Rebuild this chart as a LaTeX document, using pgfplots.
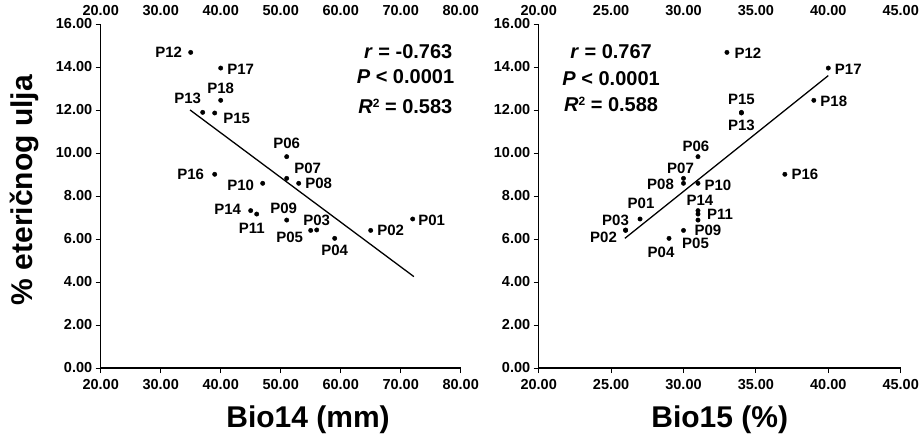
\documentclass[border=0pt]{standalone}
\usepackage{pgfplots}
\usepackage{pgfplotstable}
\pgfplotsset{compat=1.18}
\usepackage{fontspec}
\setmainfont{Liberation Sans}

\pgfplotstableread{
x y lab dx dy
72 6.93 P01 19 -1
65 6.40 P02 20 0
56 6.42 P03 0 10
59 6.03 P04 0 -12
55 6.40 P05 -21 -7
51 9.83 P06 0 13
51 8.82 P07 21 10
53 8.59 P08 20 0
51 6.88 P09 -3 12
47 8.59 P10 -22 -2
46 7.16 P11 -5 -14
35 14.68 P12 -22 0
37 11.89 P13 -15 14
45 7.32 P14 -23 1
39 11.86 P15 22 -5
39 9.01 P16 -24 0
40 13.95 P17 20 -1
40 12.45 P18 0 12
}\leftdata

\pgfplotstableread{
x y lab dx dy
27 6.93 P01 1 16
26 6.40 P02 -22 -7
26 6.42 P03 -10 10
29 6.03 P04 -8 -14
30 6.40 P05 12 -13
31 9.83 P06 -2 10
30 8.82 P07 -3 10
30 8.59 P08 -23 -1
31 6.88 P09 10 -10
31 8.59 P10 20 -2
31 7.16 P11 22 0
33 14.68 P12 21 -1
34 11.89 P13 0 -13
31 7.32 P14 2 10
34 11.86 P15 0 14
37 9.01 P16 20 0
40 13.95 P17 20 -1
39 12.45 P18 20 -1
}\rightdata

\pgfplotstableread{
x y
34.9 12.00
72.2 4.25
}\leftline

\pgfplotstableread{
x y
25.95 6.03
40.0 13.60
}\rightline

\pgfplotsset{
  mybase/.style={
    scale only axis,
    height=344pt,
    ymin=0, ymax=16,
    ytick={0,2,...,16},
    axis x line*=bottom,
    axis y line*=left,
    axis line style={-, line width=1.2pt, black},
    tick align=outside,
    major tick length=5pt,
    tick style={line width=0.9pt, black},
    /pgf/number format/assume math mode=true,
    /pgf/number format/fixed,
    /pgf/number format/fixed zerofill,
    /pgf/number format/precision=2,
    ticklabel style={font=\bfseries\fontsize{14.5}{14.5}\selectfont},
    xticklabel style={yshift=-3pt},
    clip=false,
  },
  toplabels/.style={
    scale only axis,
    height=344pt,
    ymin=0, ymax=16,
    axis x line*=top,
    axis y line=none,
    axis line style={draw=none},
    major tick length=0pt,
    /pgf/number format/assume math mode=true,
    /pgf/number format/fixed,
    /pgf/number format/fixed zerofill,
    /pgf/number format/precision=2,
    ticklabel style={font=\bfseries\fontsize{14.5}{14.5}\selectfont},
    xticklabel style={yshift=4.5pt},
  },
  ptlabels/.style={
    only marks, mark=*, mark size=2.2pt, black,
    point meta=explicit symbolic,
    nodes near coords,
    visualization depends on={\thisrow{dx}\as\dx},
    visualization depends on={\thisrow{dy}\as\dy},
    every node near coord/.append style={anchor=center, xshift=\dx pt, yshift=\dy pt,
      inner sep=0pt, font=\bfseries\fontsize{15}{15}\selectfont, black},
  },
}
\newcommand{\sqr}{\raisebox{0.55ex}{\fontsize{12}{12}\selectfont 2}}

\begin{document}
\begin{tikzpicture}
\path[use as bounding box] (-100.7pt,-66pt) rectangle (823.3pt,368pt);

% left panel
\begin{axis}[mybase, at={(0pt,0pt)}, anchor=south west,
  width=360pt, xmin=20, xmax=80, xtick={20,30,...,80},
  ylabel={\% eteričnog ulja}, xlabel={Bio14 (mm)},
  every axis y label/.style={at={(axis description cs:-0.211,0.517)}, rotate=90, anchor=center,
    font=\bfseries\fontsize{30}{30}\selectfont},
  every axis x label/.style={at={(axis description cs:0.576,-0.172)}, anchor=base,
    font=\bfseries\fontsize{30}{30}\selectfont},
]
\addplot[black, line width=1.3pt, no marks] table[x=x, y=y] {\leftline};
\addplot[ptlabels] table[x=x, y=y, meta=lab] {\leftdata};
\node[anchor=east, font=\bfseries\fontsize{20}{20}\selectfont] at (axis cs:79.2,14.70) {\textit{r} = -0.763};
\node[anchor=east, font=\bfseries\fontsize{20}{20}\selectfont] at (axis cs:79.5,13.53) {\textit{P} < 0.0001};
\node[anchor=east, font=\bfseries\fontsize{20}{20}\selectfont] at (axis cs:79.2,12.15) {\textit{R}\sqr\ = 0.583};
\end{axis}
\begin{axis}[toplabels, at={(0pt,0pt)}, anchor=south west,
  width=360pt, xmin=20, xmax=80, xtick={20,30,...,80}]
\addplot[draw=none] coordinates {(20,0)};
\end{axis}

% right panel
\begin{axis}[mybase, at={(438pt,0pt)}, anchor=south west,
  width=362pt, xmin=20, xmax=45, xtick={20,25,...,45},
  xlabel={Bio15 (\%)},
  every axis x label/.style={at={(axis description cs:0.5,-0.172)}, anchor=base,
    font=\bfseries\fontsize{30}{30}\selectfont},
]
\addplot[black, line width=1.3pt, no marks] table[x=x, y=y] {\rightline};
\addplot[ptlabels] table[x=x, y=y, meta=lab] {\rightdata};
\node[anchor=center, font=\bfseries\fontsize{20}{20}\selectfont] at (axis cs:25,14.70) {\textit{r} = 0.767};
\node[anchor=center, font=\bfseries\fontsize{20}{20}\selectfont] at (axis cs:25,13.44) {\textit{P} < 0.0001};
\node[anchor=center, font=\bfseries\fontsize{20}{20}\selectfont] at (axis cs:25,12.27) {\textit{R}\sqr\ = 0.588};
\end{axis}
\begin{axis}[toplabels, at={(438pt,0pt)}, anchor=south west,
  width=362pt, xmin=20, xmax=45, xtick={20,25,...,45}]
\addplot[draw=none] coordinates {(20,0)};
\end{axis}
\end{tikzpicture}
\end{document}
